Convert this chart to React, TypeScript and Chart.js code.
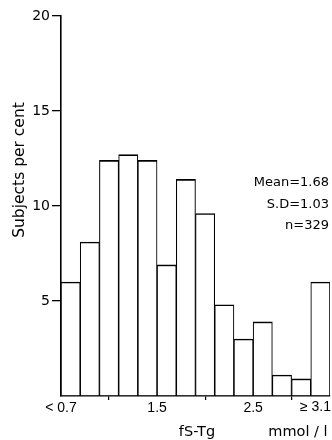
import React, { useEffect, useRef } from 'react';
import { Chart, registerables } from 'chart.js';

Chart.register(...registerables);

// Data (percent of subjects per fS-Tg bin)
const subjectsPerCent = [6.0, 8.1, 12.4, 12.7, 12.4, 6.9, 11.4, 9.6, 4.8, 3.0, 3.9, 1.1, 0.9, 6.0];
const binCount = subjectsPerCent.length;
const xTickEdges = [0, 5, 10, 14];
const xTickLabels = ['< 0.7', '1.5', '2.5', '≥ 3.1'];
const yTickValues = [5, 10, 15, 20];
const statsLines = ['Mean=1.68', 'S.D=1.03', 'n=329'];
const yTitle = 'Subjects per cent';
const xTitle = 'fS-Tg';
const xUnit = 'mmol / l';

const INK = '#000';
const FONT = 'DejaVu Sans';

export default function App() {
  const ref = useRef<HTMLCanvasElement | null>(null);

  useEffect(() => {
    const canvas = ref.current;
    if (!canvas) return;

    const textPlugin = {
      id: 'textPlugin',
      afterDraw(chart: any) {
        const ctx = chart.ctx as CanvasRenderingContext2D;
        const xs = chart.scales.x;
        const area = chart.chartArea;
        ctx.save();
        ctx.fillStyle = INK;
        // y-axis title
        ctx.save();
        ctx.translate(20, 170);
        ctx.rotate(-Math.PI / 2);
        ctx.font = `15.5px "${FONT}"`;
        ctx.textAlign = 'center';
        ctx.textBaseline = 'middle';
        ctx.fillText(yTitle, 0, 0);
        ctx.restore();
        // last x tick label, right aligned to the last edge
        ctx.font = `14px "Liberation Sans"`;
        ctx.textAlign = 'right';
        ctx.textBaseline = 'middle';
        const lastIdx = xTickEdges.length - 1;
        ctx.fillText(xTickLabels[lastIdx], xs.getPixelForValue(xTickEdges[lastIdx]) + 1, area.bottom + 11);
        // x titles
        ctx.font = `14.5px "${FONT}"`;
        ctx.textAlign = 'center';
        ctx.fillText(xTitle, 197, 432);
        ctx.fillText(xUnit, 298, 432);
        // stats
        ctx.font = `13px "${FONT}"`;
        ctx.textAlign = 'right';
        statsLines.forEach((s, i) => {
          ctx.fillText(s, area.right - 1, 183 + i * 21.5);
        });
        ctx.restore();
      },
    };

    const chart = new Chart(canvas, {
      type: 'bar',
      data: {
        datasets: [
          {
            data: subjectsPerCent.map((v, i) => ({ x: i + 0.5, y: v })),
            backgroundColor: '#ffffff',
            borderColor: INK,
            borderWidth: { top: 1.6, left: 1.1, right: 1.1, bottom: 0 },
            borderSkipped: false,
            barPercentage: 1,
            categoryPercentage: 1,
          },
        ],
      },
      options: {
        animation: false,
        responsive: false,
        layout: { padding: { left: 0, top: 16, right: 2, bottom: 0 } },
        plugins: { legend: { display: false }, tooltip: { enabled: false } },
        scales: {
          x: {
            type: 'linear',
            min: 0,
            max: binCount,
            offset: false,
            afterBuildTicks: (scale: any) => {
              scale.ticks = xTickEdges.map((v) => ({ value: v }));
            },
            afterFit: (scale: any) => {
              scale.height = 44;
              scale.paddingRight = 0;
            },
            border: { display: true, color: INK, width: 1.6 },
            grid: { drawOnChartArea: false, drawTicks: true, tickLength: 4, color: INK, lineWidth: 1.2 },
            ticks: {
              autoSkip: false,
              maxRotation: 0,
              padding: 0,
              color: INK,
              font: { family: 'Liberation Sans', size: 14 },
              callback: (v: any) => {
                const idx = xTickEdges.indexOf(Number(v));
                return idx >= 0 && idx < xTickEdges.length - 1 ? xTickLabels[idx] : '';
              },
            },
          },
          y: {
            min: 0,
            max: 20,
            afterBuildTicks: (scale: any) => {
              scale.ticks = [0, ...yTickValues].map((v) => ({ value: v }));
            },
            afterFit: (scale: any) => {
              scale.width = 61;
            },
            border: { display: true, color: INK, width: 1.6 },
            grid: {
              drawOnChartArea: false,
              drawTicks: true,
              tickLength: 9,
              lineWidth: 1.3,
              color: (c: any) => (c.tick && c.tick.value === 0 ? 'rgba(0,0,0,0)' : INK),
            },
            ticks: {
              padding: 2,
              color: INK,
              font: { family: FONT, size: 14 },
              callback: (v: any) => (Number(v) === 0 ? '' : String(v)),
            },
          },
        },
      },
      plugins: [textPlugin],
    });

    return () => chart.destroy();
  }, []);

  return (
    <div style={{ position: 'fixed', left: 0, top: 0, width: 332, height: 440, background: '#fff' }}>
      <canvas ref={ref} width={332} height={440} />
    </div>
  );
}
